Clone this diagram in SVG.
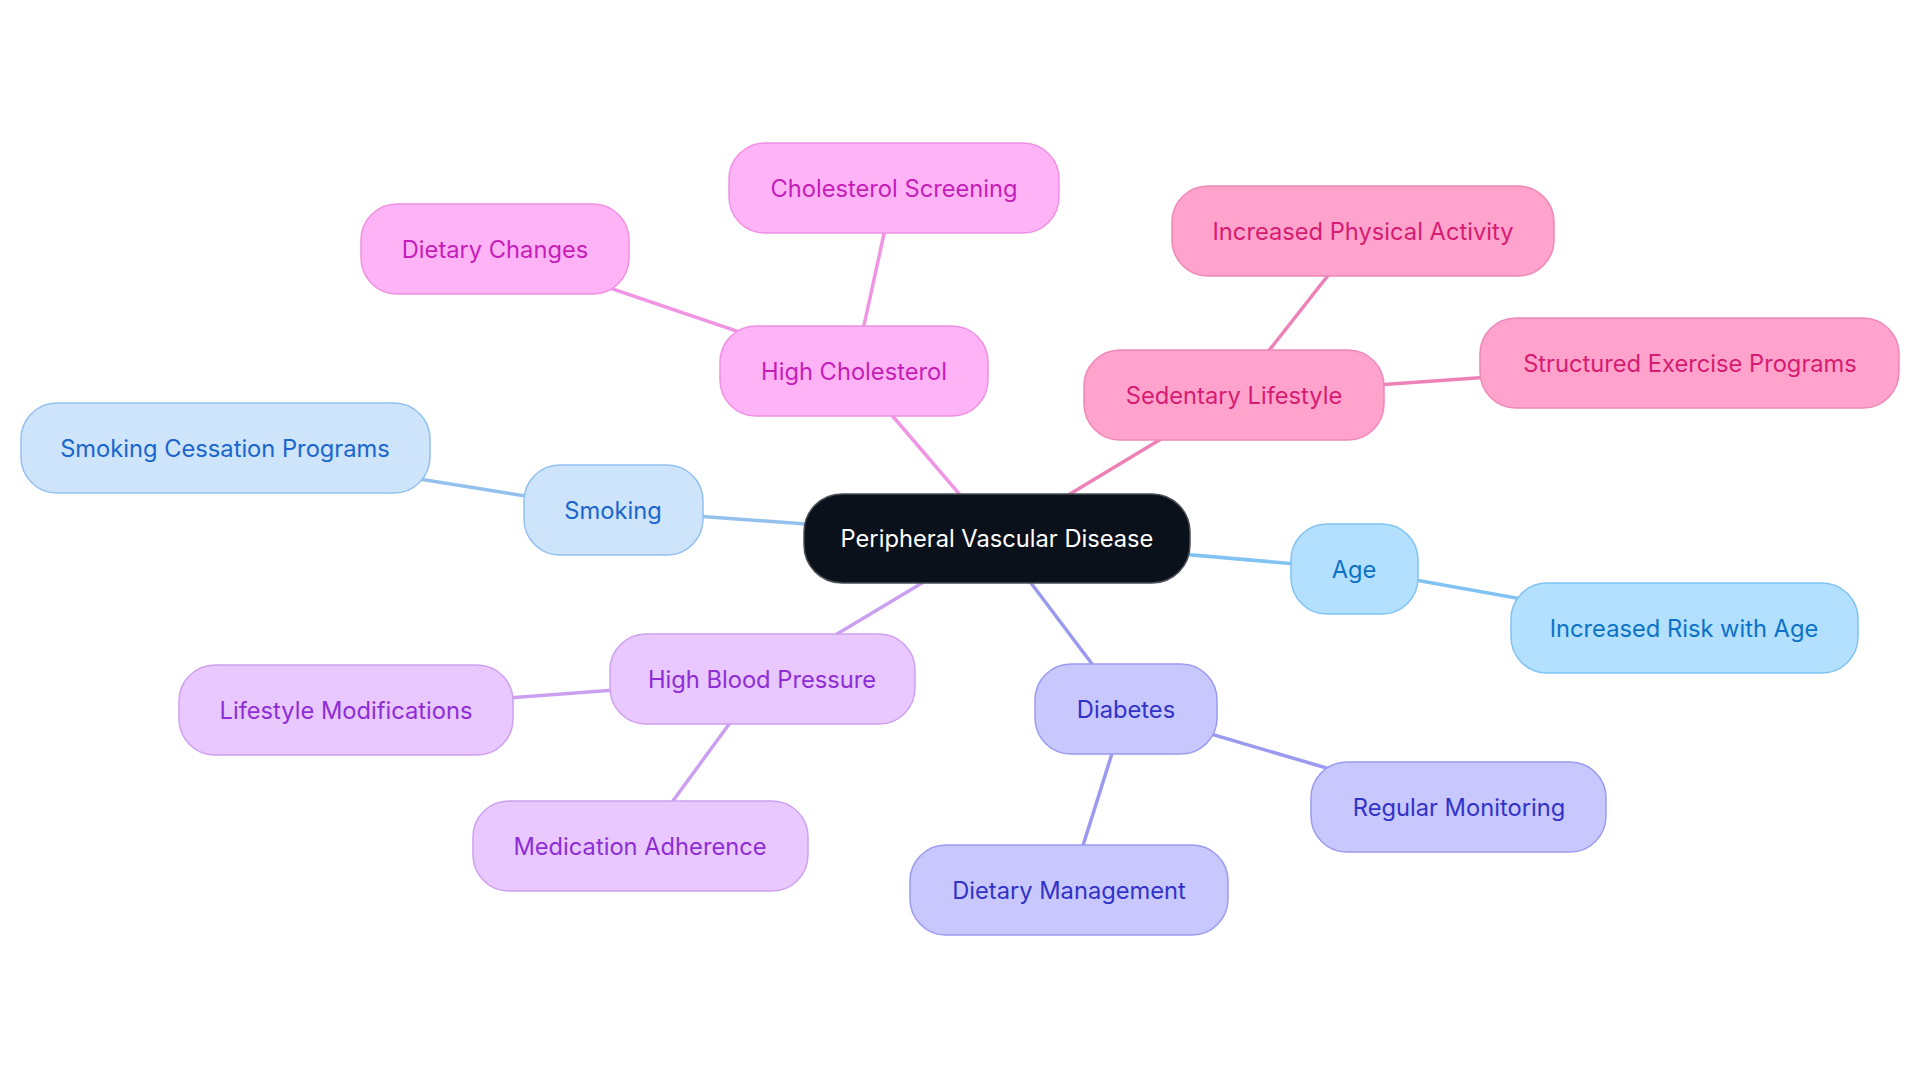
<svg xmlns="http://www.w3.org/2000/svg" width="1920" height="1083" viewBox="0 0 1920 1083">
<style>
text{font-family:Inter,"Noto Sans","Liberation Sans",sans-serif;font-size:23.7px;text-anchor:middle;dominant-baseline:central}
rect{stroke-width:1.5}
.e{stroke-width:3.5;fill:none;stroke-linecap:round}
.c rect{fill:#0B111B;stroke:#4a4f57}.c text{fill:#ffffff}
.sm rect{fill:#CDE4FB;stroke:#92C0F0}.sm text{fill:#1A66CC}
.ch rect{fill:#FFB3F7;stroke:#F090E2}.ch text{fill:#C41DB8}
.se rect{fill:#FFA3CD;stroke:#EE88B8}.se text{fill:#D61B72}
.ag rect{fill:#B3E0FF;stroke:#80C2F2}.ag text{fill:#0B72C6}
.di rect{fill:#C8C8FF;stroke:#9A9AF0}.di text{fill:#3232C8}
.hb rect{fill:#E8C8FF;stroke:#CFA0F0}.hb text{fill:#8E2DD6}
</style>
<rect width="1920" height="1083" fill="#ffffff"/>
<g id="connectors">
<line class="e" stroke="#F094E4" x1="997" y1="538" x2="854" y2="371"/>
<line class="e" stroke="#F094E4" x1="854" y1="371" x2="894" y2="188"/>
<line class="e" stroke="#F094E4" x1="854" y1="371" x2="495" y2="249"/>
<line class="e" stroke="#EE82B6" x1="997" y1="538" x2="1234" y2="395"/>
<line class="e" stroke="#EE82B6" x1="1234" y1="395" x2="1363" y2="231"/>
<line class="e" stroke="#EE82B6" x1="1234" y1="395" x2="1690" y2="363"/>
<line class="e" stroke="#94C0EE" x1="997" y1="538" x2="613" y2="510"/>
<line class="e" stroke="#94C0EE" x1="613" y1="510" x2="225" y2="448"/>
<line class="e" stroke="#80C2F2" x1="997" y1="538" x2="1354" y2="569"/>
<line class="e" stroke="#80C2F2" x1="1354" y1="569" x2="1684" y2="628"/>
<line class="e" stroke="#9A9AF0" x1="997" y1="538" x2="1126" y2="709"/>
<line class="e" stroke="#9A9AF0" x1="1126" y1="709" x2="1459" y2="807"/>
<line class="e" stroke="#9A9AF0" x1="1126" y1="709" x2="1069" y2="890"/>
<line class="e" stroke="#CBA0F0" x1="997" y1="538" x2="762" y2="679"/>
<line class="e" stroke="#CBA0F0" x1="762" y1="679" x2="346" y2="710"/>
<line class="e" stroke="#CBA0F0" x1="762" y1="679" x2="640" y2="846"/>
</g>
<g id="n-root" class="c"><rect x="804" y="494" width="386" height="89" rx="38"/><text x="997" y="538">Peripheral Vascular Disease</text></g>
<g id="n-chol" class="ch"><rect x="720" y="326" width="268" height="90" rx="36"/><text x="854" y="371">High Cholesterol</text></g>
<g id="n-cholscreen" class="ch"><rect x="729" y="143" width="330" height="90" rx="36"/><text x="894" y="188">Cholesterol Screening</text></g>
<g id="n-dietch" class="ch"><rect x="361" y="204" width="268" height="90" rx="36"/><text x="495" y="249">Dietary Changes</text></g>
<g id="n-sed" class="se"><rect x="1084" y="350" width="300" height="90" rx="36"/><text x="1234" y="395">Sedentary Lifestyle</text></g>
<g id="n-phys" class="se"><rect x="1172" y="186" width="382" height="90" rx="36"/><text x="1363" y="231">Increased Physical Activity</text></g>
<g id="n-struct" class="se"><rect x="1480" y="318" width="419" height="90" rx="36"/><text x="1690" y="363">Structured Exercise Programs</text></g>
<g id="n-smoke" class="sm"><rect x="524" y="465" width="179" height="90" rx="36"/><text x="613" y="510">Smoking</text></g>
<g id="n-cess" class="sm"><rect x="21" y="403" width="409" height="90" rx="36"/><text x="225" y="448">Smoking Cessation Programs</text></g>
<g id="n-age" class="ag"><rect x="1291" y="524" width="127" height="90" rx="36"/><text x="1354" y="569">Age</text></g>
<g id="n-risk" class="ag"><rect x="1511" y="583" width="347" height="90" rx="36"/><text x="1684" y="628">Increased Risk with Age</text></g>
<g id="n-diab" class="di"><rect x="1035" y="664" width="182" height="90" rx="36"/><text x="1126" y="709">Diabetes</text></g>
<g id="n-monit" class="di"><rect x="1311" y="762" width="295" height="90" rx="36"/><text x="1459" y="807">Regular Monitoring</text></g>
<g id="n-dietm" class="di"><rect x="910" y="845" width="318" height="90" rx="36"/><text x="1069" y="890">Dietary Management</text></g>
<g id="n-hbp" class="hb"><rect x="610" y="634" width="305" height="90" rx="36"/><text x="762" y="679">High Blood Pressure</text></g>
<g id="n-lifemod" class="hb"><rect x="179" y="665" width="334" height="90" rx="36"/><text x="346" y="710">Lifestyle Modifications</text></g>
<g id="n-med" class="hb"><rect x="473" y="801" width="335" height="90" rx="36"/><text x="640" y="846">Medication Adherence</text></g>
</svg>
